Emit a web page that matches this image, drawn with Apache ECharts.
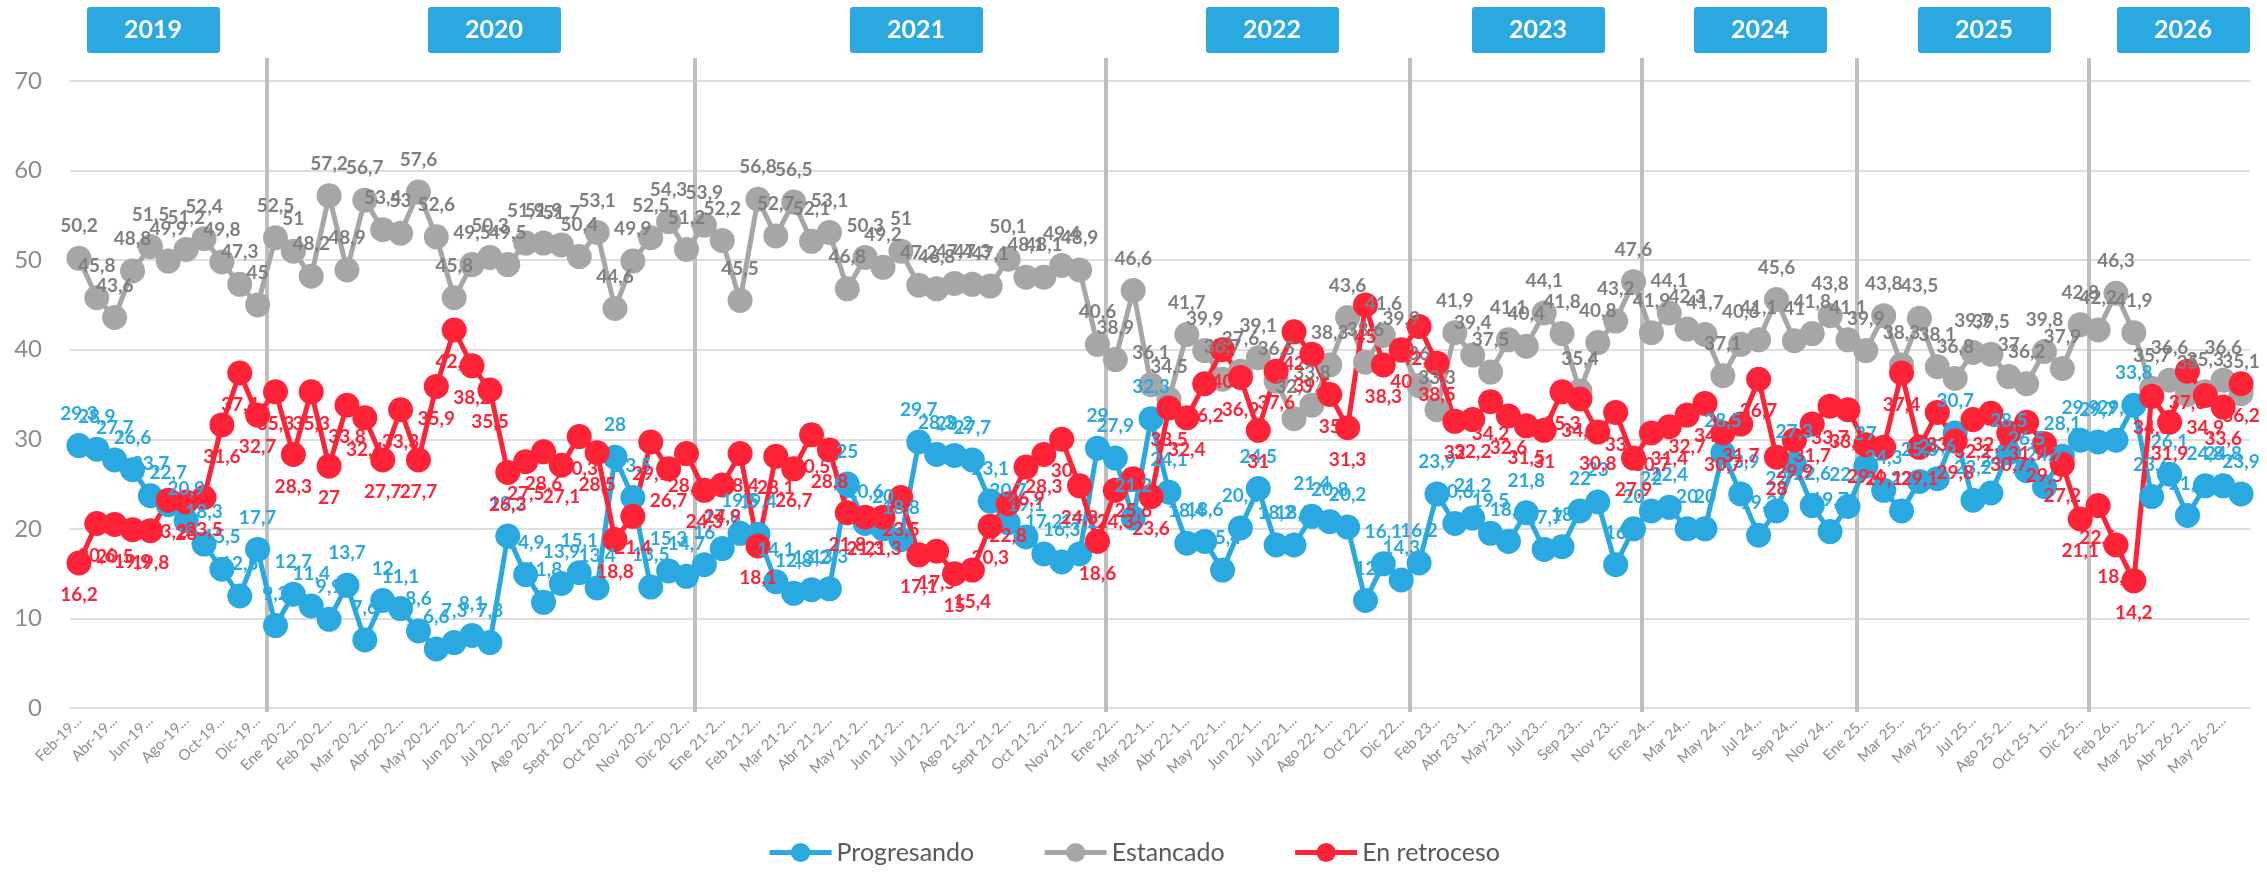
<!DOCTYPE html>
<html>
<head>
<meta charset="utf-8">
<script src="https://cdn.jsdelivr.net/npm/echarts@6/dist/echarts.min.js"></script>
<style>
html,body{margin:0;padding:0;background:#fff}
#main{width:2267px;height:873px}
</style>
</head>
<body>
<div id="main"></div>
<script>
// etiquetas del eje x (se muestra una de cada dos)
var etiquetas = [
  'Feb-19...','Mar-19...','Abr-19...','May-19...','Jun-19...','Jul-19...','Ago-19...','Sep-19...','Oct-19...','Nov-19...','Dic-19...',
  'Ene 20-1...','Ene 20-2...','Feb 20-1...','Feb 20-2...','Mar 20-1...','Mar 20-2...','Abr 20-1...','Abr 20-2...',
  'May 20-1...','May 20-2...','Jun 20-1...','Jun 20-2...','Jul 20-1...','Jul 20-2...','Ago 20-1...','Ago 20-2...',
  'Sept 20-1...','Sept 20-2...','Oct 20-1...','Oct 20-2...','Nov 20-1...','Nov 20-2...','Dic 20-1...','Dic 20-2...',
  'Ene 21-1...','Ene 21-2...','Feb 21-1...','Feb 21-2...','Mar 21-1...','Mar 21-2...','Abr 21-1...','Abr 21-2...',
  'May 21-1...','May 21-2...','Jun 21-1...','Jun 21-2...','Jul 21-1...','Jul 21-2...','Ago 21-1...','Ago 21-2...',
  'Sept 21-1...','Sept 21-2...','Oct 21-1...','Oct 21-2...','Nov 21-1...','Nov 21-2...','Dic-21...',
  'Ene-22...','Feb-22...','Mar 22-1...','Mar 22-2...','Abr 22-1...','Abr 22-2...','May 22-1...','May 22-2...',
  'Jun 22-1...','Jun 22-2...','Jul 22-1...','Jul 22-2...','Ago 22-1...','Sep 22...','Oct 22...','Nov 22...','Dic 22...',
  'Ene 23...','Feb 23...','Mar 23...','Abr 23-1...','Abr 23-2...','May-23...','Jun 23...','Jul 23...','Ago 23...',
  'Sep 23...','Oct 23...','Nov 23...','Dic 23...',
  'Ene 24...','Feb 24...','Mar 24...','Abr 24...','May 24...','Jun 24...','Jul 24...','Ago 24...','Sep 24...',
  'Oct 24...','Nov 24...','Dic 24...',
  'Ene 25...','Feb 25...','Mar 25...','Abr 25...','May 25...','Jun 25...','Jul 25...','Ago 25-1...','Ago 25-2...',
  'Sep 25...','Oct 25-1...','Nov 25...','Dic 25...',
  'Ene 26...','Feb 26...','Mar 26-1...','Mar 26-2...','Abr 26-1...','Abr 26-2...','May 26-1...','May 26-2...','Jun 26-1...'
];

var progresando = [
  29.3,28.9,27.7,26.6,23.7,22.7,20.9,18.3,15.5,12.5,17.7,
  9.2,12.7,11.4,9.9,13.7,7.6,12,11.1,8.6,6.6,7.3,8.1,7.3,19.2,14.9,11.8,13.9,15.1,13.4,28,23.5,13.5,15.3,14.7,
  16,17.8,19.5,19.4,14.1,12.8,13.2,13.3,25,20.6,20,18.8,29.7,28.3,28.2,27.7,23.1,20.7,19.1,17.2,16.3,17.2,29,
  27.9,21.2,32.3,24.1,18.4,18.6,15.4,20.1,24.5,18.2,18.2,21.4,20.8,20.2,12,16.1,14.3,
  16.2,23.9,20.6,21.2,19.5,18.6,21.8,17.7,18,22,23,16,20,
  22,22.4,20,20,28.5,23.9,19.3,22,27.3,22.6,19.7,22.5,
  27,24.3,22,25.3,25.6,30.7,23.2,24,28.5,26.5,24.7,28.1,29.9,
  29.7,29.9,33.8,23.6,26.1,21.5,24.8,24.8,23.9
];

var estancado = [
  50.2,45.8,43.6,48.8,51.5,49.9,51.2,52.4,49.8,47.3,45,
  52.5,51,48.2,57.2,48.9,56.7,53.4,53,57.6,52.6,45.8,49.5,50.3,49.5,51.9,51.9,51.7,50.4,53.1,44.6,49.9,52.5,54.3,51.2,
  53.9,52.2,45.5,56.8,52.7,56.5,52.1,53.1,46.8,50.3,49.2,51,47.2,46.8,47.4,47.3,47.1,50.1,48.1,48.1,49.4,48.9,40.6,
  38.9,46.6,36.1,34.5,41.7,39.9,36.7,37.6,39.1,36.5,32.3,33.8,38.3,43.6,38.6,41.6,39.9,
  36,33.3,41.9,39.4,37.5,41.1,40.4,44.1,41.8,35.4,40.8,43.2,47.6,
  41.9,44.1,42.3,41.7,37.1,40.6,41.1,45.6,41,41.8,43.8,41.1,
  39.9,43.8,38.3,43.5,38.1,36.8,39.7,39.5,37,36.2,39.8,37.9,42.8,
  42.2,46.3,41.9,35.7,36.6,35,35.3,36.6,35.1
];

var retroceso = [
  16.2,20.6,20.5,19.9,19.8,23.2,23,23.5,31.6,37.4,32.7,
  35.3,28.3,35.3,27,33.8,32.4,27.7,33.3,27.7,35.9,42.2,38.2,35.5,26.3,27.5,28.6,27.1,30.3,28.5,18.8,21.4,29.7,26.7,28.4,
  24.3,24.9,28.4,18.1,28.1,26.7,30.5,28.8,21.8,21.3,21.3,23.5,17.1,17.5,15,15.4,20.3,22.8,26.9,28.3,30,24.8,18.6,
  24.3,25.6,23.6,33.5,32.4,36.2,40,36.9,31,37.6,42,39.5,35,31.3,45,38.3,40,
  42.6,38.5,32,32.2,34.2,32.6,31.5,31,35.3,34.5,30.8,33,27.9,
  30.7,31.4,32.7,34,30.7,31.7,36.7,28,29.9,31.7,33.7,33.3,
  29.4,29.1,37.4,29.1,33,29.8,32.2,32.9,30.7,31.9,29.5,27.2,21.1,
  22.6,18.2,14.2,34.8,31.9,37.6,34.9,33.6,36.2
];

// años y el primer punto de cada uno
var anios = ['2019','2020','2021','2022','2023','2024','2025','2026'];
var inicioAnio = [0, 11, 35, 58, 75, 88, 100, 113];

var AZUL = '#29a9e0', GRIS = '#a6a6a6', ROJO = '#ff2337';
var FUENTE = 'Lato, "Liberation Sans", sans-serif';

function coma(p) {
  return String(p.value).replace('.', ',');
}

function serie(nombre, datos, color, colorTexto, pos) {
  return {
    name: nombre,
    type: 'line',
    data: datos,
    symbol: 'circle',
    symbolSize: 25,
    showAllSymbol: true,
    lineStyle: {color: color, width: 5},
    itemStyle: {color: color},
    label: {
      show: true,
      position: pos,
      distance: 10,
      formatter: coma,
      color: colorTexto,
      fontFamily: FUENTE,
      fontWeight: 'bold',
      fontSize: 19
    }
  };
}

var myChart = echarts.init(document.getElementById('main'));

var option = {
  animation: false,
  backgroundColor: '#fff',
  grid: {left: 70, right: 17, top: 81, bottom: 165, containLabel: false},
  legend: {
    bottom: 3,
    left: 'center',
    itemWidth: 62,
    itemHeight: 24,
    itemGap: 68,
    lineStyle: {width: 5},
    textStyle: {color: '#595959', fontSize: 25, fontFamily: FUENTE},
    data: ['Progresando', 'Estancado', 'En retroceso']
  },
  xAxis: {
    type: 'category',
    data: etiquetas,
    boundaryGap: true,
    axisLine: {show: false},
    axisTick: {show: false},
    axisLabel: {
      interval: 1,
      rotate: 45,
      margin: 10,
      color: '#8c8c8c',
      fontSize: 15,
      fontFamily: FUENTE
    }
  },
  yAxis: {
    type: 'value',
    min: 0,
    max: 70,
    interval: 10,
    axisLine: {show: false},
    axisTick: {show: false},
    axisLabel: {color: '#8c8c8c', fontSize: 24, fontFamily: FUENTE, margin: 28},
    splitLine: {lineStyle: {color: '#dedede', width: 2}}
  },
  series: [
    serie('Progresando', progresando, AZUL, AZUL, 'top'),
    serie('Estancado', estancado, GRIS, '#7f7f7f', 'top'),
    serie('En retroceso', retroceso, ROJO, ROJO, 'bottom')
  ]
};

myChart.setOption(option);

// líneas de separación entre años y cajas con el año
var cajaX = [87, 428, 850, 1206, 1472, 1694, 1918, 2117];
var graficos = [];
for (var i = 1; i < inicioAnio.length; i++) {
  var a = myChart.convertToPixel({xAxisIndex: 0}, etiquetas[inicioAnio[i] - 1]);
  var b = myChart.convertToPixel({xAxisIndex: 0}, etiquetas[inicioAnio[i]]);
  var x = Math.round((a + b) / 2);
  graficos.push({
    type: 'line',
    z: 1,
    shape: {x1: x, y1: 58, x2: x, y2: 712},
    style: {stroke: '#bfbfbf', lineWidth: 4}
  });
}
for (var j = 0; j < anios.length; j++) {
  graficos.push({
    type: 'group',
    left: cajaX[j],
    top: 7,
    children: [
      {type: 'rect', shape: {x: 0, y: 0, width: 133, height: 46, r: 3}, style: {fill: AZUL}},
      {type: 'text', style: {text: anios[j], x: 66, y: 23, align: 'center', verticalAlign: 'middle',
        fill: '#fff', font: 'bold 25px ' + FUENTE}}
    ]
  });
}
myChart.setOption({graphic: graficos});
</script>
</body>
</html>
